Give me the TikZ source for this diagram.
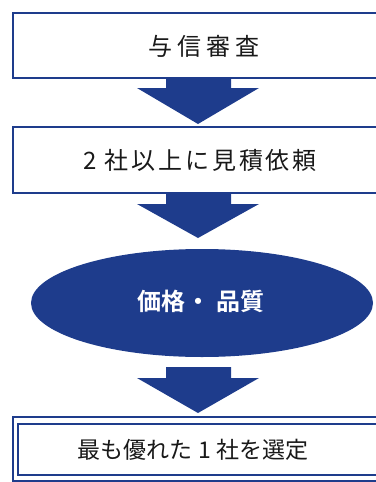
\documentclass[tikz,border=0pt]{standalone}
\usepackage{fontspec}
\setmainfont{Noto Sans CJK JP}[BoldFont={Noto Sans CJK JP Bold}]
\usetikzlibrary{shapes.geometric}
\definecolor{navy}{HTML}{1E3C8C}
\tikzset{
  flowbox/.style={draw=navy, line width=2.6pt, fill=white},
  bigarrow/.style={fill=navy, draw=none},
  boxtext/.style={text=black!90, inner sep=0pt},
}
\begin{document}
\begin{tikzpicture}[x=1pt,y=-1pt]
\useasboundingbox (0,0) rectangle (375,482);
% box 1
\draw[flowbox] (13,13) rectangle (385,78);
\node[boxtext, font=\fontsize{24}{26}\selectfont\addfontfeatures{LetterSpace=22}] (t1) at (204,46) {与信審査};
% arrow 1
\fill[bigarrow] (166,79) -- (166,88) -- (137,88) -- (198,124) -- (259,88) -- (231,88) -- (231,79) -- cycle;
% box 2
\draw[flowbox] (13,127) rectangle (385,193);
\node[boxtext, font=\fontsize{24}{26}\selectfont\addfontfeatures{LetterSpace=12}] (t2) at (200,160) {2 社以上に見積依頼};
% arrow 2
\fill[bigarrow] (166,194) -- (166,204) -- (137,204) -- (198,238) -- (259,204) -- (231,204) -- (231,194) -- cycle;
% ellipse
\node[ellipse, fill=navy, minimum width=342pt, minimum height=108pt, inner sep=0pt] (e) at (202,303) {};
\node[font=\fontsize{24}{26}\selectfont\bfseries\addfontfeatures{LetterSpace=2}, text=white, inner sep=0pt] (t3) at (201,301) {価格・ 品質};
% arrow 3
\fill[bigarrow] (166,367) -- (166,378) -- (137,378) -- (198,413) -- (259,378) -- (231,378) -- (231,367) -- cycle;
% box 4 double border
\draw[draw=navy, line width=2.6pt, fill=white] (13,417) rectangle (385,481);
\draw[draw=navy, line width=1.6pt] (18,424) rectangle (385,475);
\node[boxtext, font=\fontsize{23}{25}\selectfont] (t4) at (193,450) {最も優れた 1 社を選定};
\end{tikzpicture}
\end{document}
